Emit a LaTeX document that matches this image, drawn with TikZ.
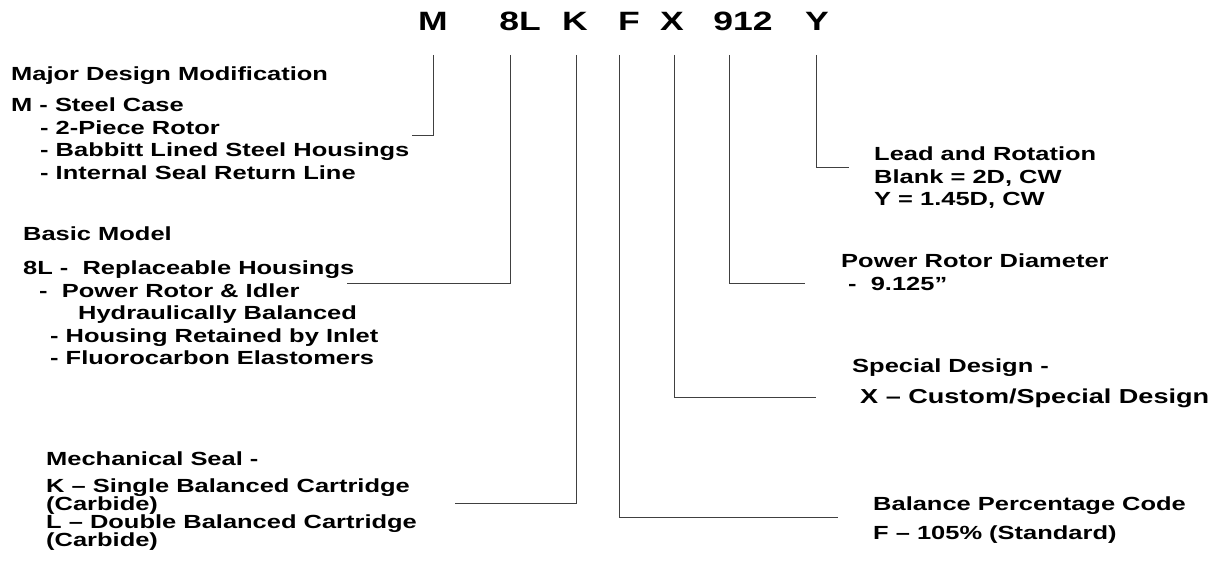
\documentclass[tikz,border=0pt]{standalone}
\usepackage{fontspec}
\setmainfont{Liberation Sans}[FakeStretch=1.34]
\begin{document}
\begin{tikzpicture}[x=1pt,y=-1pt,
  txt/.style={anchor=base west, inner sep=0pt, font=\fontsize{19}{22}\selectfont\bfseries},
  bigtxt/.style={txt, font=\fontsize{20.2}{23}\selectfont\bfseries},
  code/.style={anchor=base, inner sep=0pt, font=\fontsize{26.5}{30}\selectfont\bfseries},
  conn/.style={draw=black!75, line width=1pt}]
\useasboundingbox[fill=white] (0,0) rectangle (1217,564);

% code letters
\node[code] (cM)   at (433,31) {M};
\node[code] (c8L)  at (520,31) {8L};
\node[code] (cK)   at (575,31) {K};
\node[code] (cF)   at (629,31) {F};
\node[code] (cX)   at (672,31) {X};
\node[code] (c912) at (743,31) {912};
\node[code] (cY)   at (817,31) {Y};

% Major design modification
\node[txt] (mA) at (11,81)  {Major Design Modification};
\node[txt] (mB) at (11,112) {M - Steel Case};
\node[txt] (mC) at (40,135) {- 2-Piece Rotor};
\node[txt] (mD) at (40,157) {- Babbitt Lined Steel Housings};
\node[txt] (mE) at (40,180) {- Internal Seal Return Line};

% Basic model
\node[txt] (bA) at (23,240) {Basic Model};
\node[txt] (bB) at (23,274) {8L -\ \ Replaceable Housings};
\node[txt] (bC) at (39,297) {-\ \ Power Rotor \& Idler};
\node[txt] (bD) at (78,319) {Hydraulically Balanced};
\node[txt] (bE) at (50,342) {- Housing Retained by Inlet};
\node[txt] (bF) at (50,364) {- Fluorocarbon Elastomers};

% Mechanical seal
\node[txt] (kA) at (46,465) {Mechanical Seal -};
\node[txt] (kB) at (46,492) {K – Single Balanced Cartridge};
\node[txt] (kC) at (46,510) {(Carbide)};
\node[txt] (kD) at (46,528) {L – Double Balanced Cartridge};
\node[txt] (kE) at (46,546) {(Carbide)};

% Lead and rotation
\node[txt] (yA) at (874,161) {Lead and Rotation};
\node[txt] (yB) at (874,184) {Blank = 2D, CW};
\node[txt] (yC) at (874,205) {Y = 1.45D, CW};

% Power rotor diameter
\node[txt] (dA) at (841,267) {Power Rotor Diameter};
\node[txt] (dB) at (848,290) {-\ \ 9.125”};

% Special design
\node[txt] (xA) at (852,372) {Special Design -};
\node[bigtxt] (xB) at (860,403) {X – Custom/Special Design};

% Balance percentage
\node[txt] (fA) at (873,510) {Balance Percentage Code};
\node[txt] (fB) at (873,539) {F – 105\% (Standard)};

% connector ends
\coordinate (sM)   at (433,55);  \coordinate (eM)   at (412,136);
\coordinate (s8L)  at (510,55);  \coordinate (e8L)  at (347,283);
\coordinate (sK)   at (576,55);  \coordinate (eK)   at (455,503);
\coordinate (sF)   at (619,55);  \coordinate (eF)   at (838,517);
\coordinate (sX)   at (674,55);  \coordinate (eX)   at (816,397);
\coordinate (s912) at (729,55);  \coordinate (e912) at (805,283);
\coordinate (sY)   at (816,55);  \coordinate (eY)   at (849,168);

\draw[conn] (sM) |- (eM);
\draw[conn] (s8L) |- (e8L);
\draw[conn] (sK) |- (eK);
\draw[conn] (sF) |- (eF);
\draw[conn] (sX) |- (eX);
\draw[conn] (s912) |- (e912);
\draw[conn] (sY) |- (eY);
\end{tikzpicture}
\end{document}
